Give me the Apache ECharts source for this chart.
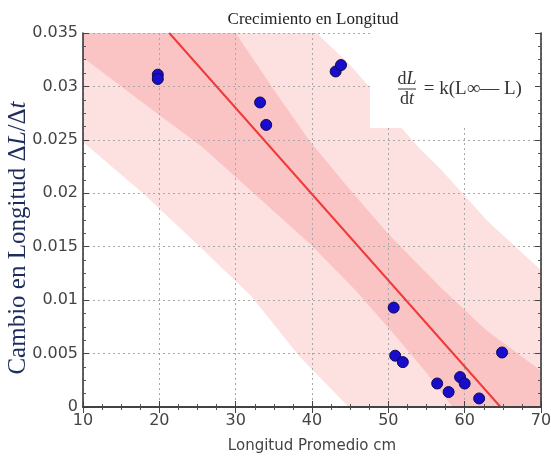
<!DOCTYPE html>
<html><head><meta charset="utf-8">
<script src="https://cdn.jsdelivr.net/npm/echarts@6/dist/echarts.min.js"></script>
<style>html,body{margin:0;padding:0;background:#fff}#c{width:551px;height:460px}</style>
</head><body><div id="c"></div>
<script>
// ---- data ----
const xTickValues = [10, 20, 30, 40, 50, 60, 70];
const yTickValues = [0, 0.005, 0.01, 0.015, 0.02, 0.025, 0.03, 0.035];
const pointsX = [19.8, 19.8, 33.2, 34.0, 43.1, 43.8, 50.7, 50.9, 51.9, 56.4, 57.9, 59.4, 60.0, 61.9, 64.9];
const pointsY = [0.0311, 0.0307, 0.0285, 0.0264, 0.0314, 0.0320, 0.0093, 0.0048, 0.0042, 0.0022, 0.0014, 0.0028, 0.0022, 0.0008, 0.0051];
const fitLineX = [21.3, 64.7];
const fitLineY = [0.035, 0];
// inner (darker) band edges (first points lie outside the plot, clipped)
const confUpperX = [8, 26, 29.9, 35, 39.7, 45, 50, 56.7, 62.8, 70];
const confUpperY = [0.060, 0.0389, 0.0351, 0.0297, 0.0249, 0.0203, 0.0162, 0.0113, 0.0072, 0.0034];
const confLowerX = [8, 10, 17.4, 25.5, 33, 40, 46, 51, 55, 60, 70];
const confLowerY = [0.0338, 0.0327, 0.0287, 0.0244, 0.0196, 0.0151, 0.0107, 0.0066, 0.0032, -0.0015, -0.0118];
// outer (lighter) band edges
const predUpperX = [8, 30, 38, 40.6, 45, 47.6, 51.5, 54.1, 56.8, 63, 70];
const predUpperY = [0.070, 0.0443, 0.0375, 0.0350, 0.0320, 0.0299, 0.0263, 0.0242, 0.0223, 0.0174, 0.0128];
const predLowerX = [8, 10, 18, 25.3, 32, 38.4, 44.8, 50, 70];
const predLowerY = [0.0261, 0.0248, 0.0199, 0.0150, 0.0104, 0.0047, 0.0, -0.0036, -0.0209];
// equation box corners (data units)
const eqBoxX = [47.6, 70];
const eqBoxY = [0.0261, 0.035];
const titleText = 'Crecimiento en Longitud';
const xName = 'Longitud Promedio cm';

const zip = (xs, ys) => xs.map((x, i) => [x, ys[i]]);
const scatterData = zip(pointsX, pointsY);
const fitData = zip(fitLineX, fitLineY);

function bandSeries(upX, upY, loX, loY, fill, z) {
  const up = zip(upX, upY);
  const lo = zip(loX, loY).reverse();
  return {
    type: 'custom', z: z, clip: true, silent: true,
    data: [[upX[0], upY[0]]],
    renderItem: function (params, api) {
      const pts = up.concat(lo).map(p => api.coord(p));
      return { type: 'polygon', shape: { points: pts }, style: { fill: fill } };
    }
  };
}

const serif = '"Liberation Serif", "DejaVu Serif", serif';
const sans = '"DejaVu Sans", sans-serif';

const chart = echarts.init(document.getElementById('c'), null, { renderer: 'canvas' });
const baseAxis = {
  axisLine: { show: true, lineStyle: { color: '#3a3a3a', width: 1.6 } },
  axisTick: { show: true, inside: true, length: 6, lineStyle: { color: '#444', width: 1 } },
  minorTick: { show: true, splitNumber: 4, length: 3, lineStyle: { color: '#555', width: 1 } },
};
chart.setOption({
  animation: false,
  title: {
    text: titleText, left: 308, top: 6, textAlign: 'center',
    textStyle: { fontFamily: serif, fontSize: 17, fontWeight: 'normal', color: '#222' }
  },
  graphic: [{
    type: 'text', x: 18, y: 238, rotation: Math.PI / 2,
    style: {
      text: 'Cambio en Longitud Δ{i|L}/Δ{i|t}', align: 'center', verticalAlign: 'middle',
      fill: '#1f2d5c', font: '25px ' + serif,
      rich: { i: { fontFamily: serif, fontSize: 25, fontStyle: 'italic', fill: '#1f2d5c' } }
    }
  }],
  grid: { left: 83, right: 10, top: 33, bottom: 53, containLabel: false, outerBoundsMode: 'none' },
  xAxis: [
    Object.assign({}, baseAxis, {
      type: 'value', min: xTickValues[0], max: xTickValues[xTickValues.length - 1], interval: 10, z: 3,
      name: xName, nameLocation: 'middle', nameGap: 32,
      nameTextStyle: { fontFamily: sans, fontSize: 15, color: '#444' },
      axisLabel: { fontFamily: sans, fontSize: 16, color: '#444', margin: 6 },
      splitLine: { show: true, lineStyle: { color: '#a8a8a8', width: 1, type: [2, 3] } }
    }),
    Object.assign({}, baseAxis, {
      type: 'value', position: 'top', min: xTickValues[0], max: xTickValues[xTickValues.length - 1], interval: 10, z: 5,
      axisLabel: { show: false }, splitLine: { show: false }
    })
  ],
  yAxis: [
    Object.assign({}, baseAxis, {
      type: 'value', min: yTickValues[0], max: yTickValues[yTickValues.length - 1], interval: 0.005, z: 3,
      axisLabel: { fontFamily: sans, fontSize: 16, color: '#444', margin: 5 },
      splitLine: { show: true, lineStyle: { color: '#a8a8a8', width: 1, type: [2, 3] } }
    }),
    Object.assign({}, baseAxis, {
      type: 'value', position: 'right', min: yTickValues[0], max: yTickValues[yTickValues.length - 1], interval: 0.005, z: 5,
      axisLabel: { show: false }, splitLine: { show: false }
    })
  ],
  series: [
    bandSeries(predUpperX, predUpperY, predLowerX, predLowerY, '#fde0e0', 1),
    bandSeries(confUpperX, confUpperY, confLowerX, confLowerY, '#fbc4c4', 1.5),
    {
      type: 'line', data: fitData, showSymbol: false, z: 3.5, clip: true, silent: true,
      lineStyle: { color: '#f03a3a', width: 2 }
    },
    {
      type: 'custom', z: 4, silent: true, clip: false,
      data: [[eqBoxX[0], eqBoxY[1]]],
      renderItem: function (params, api) {
        const p1 = api.coord([eqBoxX[0], eqBoxY[1]]);
        const p2 = api.coord([eqBoxX[1], eqBoxY[0]]);
        const fx = p1[0] + 37, ly = p1[1] + 56;
        return {
          type: 'group', children: [
            { type: 'rect', shape: { x: p1[0], y: p1[1], width: p2[0] - p1[0], height: p2[1] - p1[1] }, style: { fill: '#fff' } },
            { type: 'text', x: fx, y: ly - 1, style: { text: '{n|d}{i|L}', align: 'center', verticalAlign: 'bottom', fill: '#333',
                rich: { n: { fontFamily: serif, fontSize: 18, fill: '#333' }, i: { fontFamily: serif, fontSize: 18, fontStyle: 'italic', fill: '#333' } } } },
            { type: 'line', shape: { x1: fx - 9, y1: ly, x2: fx + 9, y2: ly }, style: { stroke: '#333', lineWidth: 1 } },
            { type: 'text', x: fx, y: ly + 1, style: { text: '{n|d}{i|t}', align: 'center', verticalAlign: 'top', fill: '#333',
                rich: { n: { fontFamily: serif, fontSize: 18, fill: '#333' }, i: { fontFamily: serif, fontSize: 18, fontStyle: 'italic', fill: '#333' } } } },
            { type: 'text', x: fx + 12, y: ly, style: { text: ' = k(L∞— L)', align: 'left', verticalAlign: 'middle', fill: '#333',
                font: '19px ' + serif } }
          ]
        };
      }
    },
    {
      type: 'scatter', data: scatterData, symbolSize: 11, z: 6,
      itemStyle: { color: '#1a0ccc', borderColor: '#0a0a55', borderWidth: 1, opacity: 1 }
    }
  ]
});
</script>
</body></html>
